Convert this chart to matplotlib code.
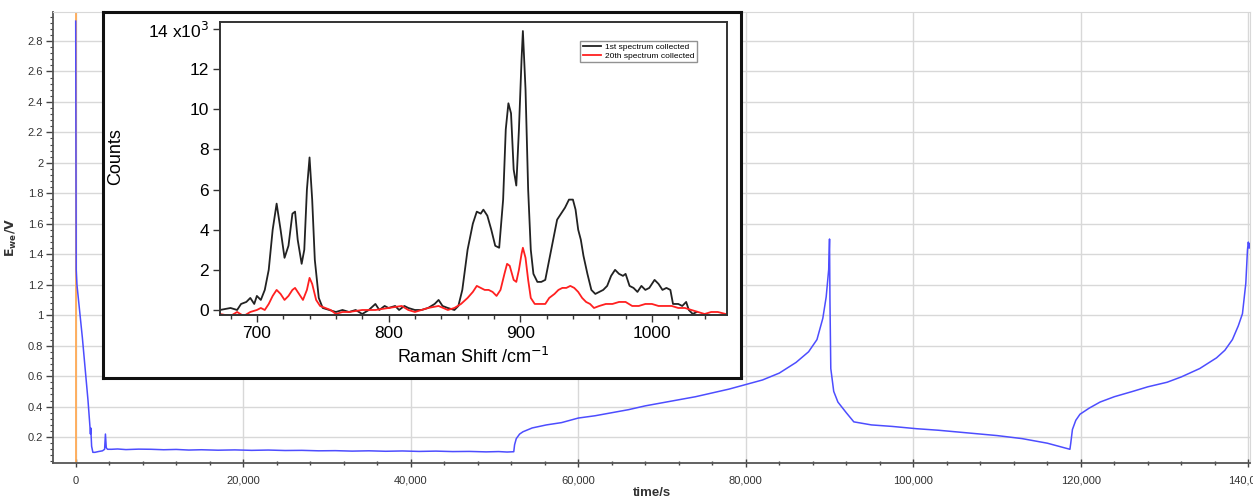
import numpy as np
import matplotlib.pyplot as plt
from matplotlib.ticker import MultipleLocator, FuncFormatter, FixedLocator, FixedFormatter

plt.rcParams['font.family'] = ['Liberation Sans', 'DejaVu Sans']

# --- main trace: working electrode potential vs time ---
time_s = [0, 60, 150, 800, 1470, 1700, 1760, 1800, 1900, 2050, 2300, 2700, 3200, 3450,
          3550, 3650, 3800, 4300, 5000, 6000, 7500, 9000, 10500, 12000, 13500, 15000,
          17000, 19000, 21000, 23000, 25000, 27000, 29000, 31000, 33000, 35000, 37000,
          39000, 41000, 43000, 45000, 47000, 49000, 50500, 51500, 52300, 52400, 52600,
          53000, 53400, 54500, 56200, 58000, 60000, 62000, 64000, 66000, 68000, 70000,
          72000, 74000, 76000, 78000, 80000, 82000, 84000, 86000, 87500, 88500, 89200,
          89600, 89900, 90000, 90050, 90150, 90500, 91000, 92000, 92900, 95000, 97500,
          100400, 103000, 106000, 110000, 113000, 116000, 118700, 118800, 119000, 119400,
          119900, 121000, 122300, 124000, 126200, 128000, 130300, 132000, 134200, 136200,
          137200, 138100, 138800, 139300, 139700, 139900, 140000, 140100, 140200]
ewe_v = [2.93, 1.30, 1.20, 0.85, 0.44, 0.27, 0.22, 0.26, 0.14, 0.10, 0.10, 0.105, 0.11, 0.12,
         0.22, 0.13, 0.12, 0.12, 0.122, 0.118, 0.121, 0.12, 0.117, 0.119, 0.115, 0.117,
         0.114, 0.116, 0.113, 0.115, 0.112, 0.113, 0.110, 0.111, 0.108, 0.110, 0.107,
         0.109, 0.106, 0.108, 0.105, 0.106, 0.103, 0.105, 0.102, 0.104, 0.15, 0.19,
         0.22, 0.235, 0.26, 0.28, 0.295, 0.325, 0.34, 0.36, 0.38, 0.405, 0.425,
         0.445, 0.465, 0.49, 0.515, 0.545, 0.575, 0.62, 0.69, 0.76, 0.84, 0.98,
         1.12, 1.30, 1.50, 1.10, 0.65, 0.50, 0.43, 0.36, 0.30, 0.28, 0.27,
         0.255, 0.245, 0.23, 0.21, 0.19, 0.16, 0.12, 0.16, 0.25, 0.31,
         0.35, 0.39, 0.43, 0.465, 0.50, 0.53, 0.56, 0.595, 0.65, 0.72,
         0.77, 0.84, 0.93, 1.01, 1.21, 1.43, 1.48, 1.44, 1.47]

# --- inset: Raman spectra (counts in thousands) ---
shift_1st = [672, 680, 685, 688, 692, 695, 698, 700, 703, 706, 709, 712, 715, 718, 721, 724,
             727, 729, 731, 734, 736, 738, 740, 742, 744, 747, 750, 755, 760, 765, 770, 775,
             780, 785, 790, 793, 797, 800, 805, 808, 812, 815, 820, 825, 830, 835, 838, 841,
             845, 850, 853, 856, 860, 864, 867, 870, 872, 875, 878, 881, 884, 887, 889, 891,
             893, 895, 897, 899, 901, 902, 904, 906, 908, 910, 913, 916, 919, 922, 925, 928,
             931, 934, 937, 940, 942, 944, 946, 948, 951, 954, 957, 960, 963, 966, 969, 972,
             975, 978, 980, 983, 986, 989, 992, 995, 998, 1002, 1005, 1008, 1011, 1014,
             1016, 1020, 1023, 1026, 1028, 1031, 1034]
counts_1st = [0.0, 0.1, 0.0, 0.3, 0.4, 0.6, 0.3, 0.7, 0.5, 1.0, 2.0, 4.0, 5.3, 4.0, 2.6, 3.2,
              4.8, 4.9, 3.5, 2.3, 3.0, 6.0, 7.6, 5.5, 2.5, 0.6, 0.1, 0.0, -0.1, 0.0, -0.1, 0.0,
              -0.2, 0.0, 0.3, 0.0, 0.2, 0.1, 0.2, 0.0, 0.2, 0.1, 0.0, 0.0, 0.1, 0.3, 0.5, 0.2,
              0.1, 0.0, 0.2, 1.0, 3.0, 4.3, 4.9, 4.8, 5.0, 4.7, 4.0, 3.2, 3.1, 5.5, 9.0, 10.3,
              9.8, 7.0, 6.2, 9.0, 12.5, 13.9, 11.0, 6.0, 3.0, 1.8, 1.4, 1.4, 1.5, 2.5, 3.5, 4.5,
              4.8, 5.1, 5.5, 5.5, 5.0, 4.0, 3.5, 2.7, 1.8, 1.0, 0.8, 0.9, 1.0, 1.2, 1.7, 2.0,
              1.8, 1.7, 1.8, 1.2, 1.1, 0.9, 1.2, 1.0, 1.1, 1.5, 1.3, 1.0, 1.1, 1.0,
              0.3, 0.3, 0.2, 0.4, 0.0, -0.2, -0.1]

shift_20th = [672, 680, 685, 690, 695, 700, 703, 706, 709, 712, 715, 718, 721, 724, 727, 729,
              732, 735, 738, 740, 742, 745, 748, 752, 756, 760, 765, 770, 780, 790, 800, 810,
              815, 820, 830, 838, 845, 850, 855, 860, 864, 867, 870, 873, 876, 879, 882, 885,
              888, 890, 892, 895, 897, 899, 901, 902, 904, 906, 908, 911, 915, 919, 922, 926,
              929, 932, 935, 938, 941, 944, 947, 950, 953, 956, 960, 965, 970, 975, 980, 985,
              990, 995, 1000, 1005, 1010, 1015, 1020, 1025, 1030, 1035, 1040, 1045, 1050, 1056]
counts_20th = [-0.2, -0.3, -0.1, -0.3, -0.1, 0.0, 0.1, 0.0, 0.3, 0.7, 1.0, 0.8, 0.5, 0.7, 1.0, 1.1,
               0.8, 0.5, 1.0, 1.6, 1.3, 0.5, 0.2, 0.1, 0.0, -0.2, -0.1, -0.1, 0.0, 0.0, 0.1, 0.2,
               0.0, -0.1, 0.1, 0.2, 0.0, 0.1, 0.3, 0.6, 0.9, 1.2, 1.1, 1.0, 1.0, 0.9, 0.7, 1.0,
               1.8, 2.3, 2.2, 1.5, 1.4, 2.0, 2.8, 3.1, 2.6, 1.5, 0.6, 0.3, 0.3, 0.3, 0.6, 0.8,
               1.0, 1.1, 1.1, 1.2, 1.1, 0.9, 0.6, 0.4, 0.3, 0.1, 0.2, 0.3, 0.3, 0.4, 0.4, 0.2,
               0.2, 0.3, 0.3, 0.2, 0.2, 0.2, 0.1, 0.1, 0.0, -0.1, -0.2, -0.1, -0.1, -0.2]

inset_yticks = [0, 2, 4, 6, 8, 10, 12, 14]
inset_yticklabels = ['0', '2', '4', '6', '8', '10', '12', r'14 x10$^3$']

W, H = 1253, 497
fig = plt.figure(figsize=(W / 100, H / 100), dpi=100)


def px_axes(left, top, right, bottom):
    # pixel box -> figure fraction
    return [left / W, 1 - bottom / H, (right - left) / W, (bottom - top) / H]


ax = fig.add_axes(px_axes(53, 12, 1250, 463))
ax.axvline(0, color='#ffaa55', lw=1.3, zorder=2)
ax.plot(time_s, ewe_v, color='#4d4dff', lw=1.1, zorder=3)
ax.set_xlim(-2710, 140200)
ax.set_ylim(0.03, 2.99)

ax.xaxis.set_major_locator(MultipleLocator(20000))
ax.xaxis.set_minor_locator(MultipleLocator(4000))
ax.yaxis.set_major_locator(FixedLocator(np.arange(0.2, 2.81, 0.2)))
ax.yaxis.set_minor_locator(MultipleLocator(0.04))
ax.xaxis.set_major_formatter(FuncFormatter(lambda v, p: f'{v:,.0f}'))
ax.yaxis.set_major_formatter(FuncFormatter(lambda v, p: f'{v:.1f}'.rstrip('0').rstrip('.')))
ax.grid(True, which='major', color='#d8d8d8', lw=1)
ax.tick_params(axis='x', which='major', direction='inout', length=6, width=1,
               color='#444444', labelsize=8, labelcolor='#333333', pad=6)
ax.tick_params(axis='x', which='minor', direction='inout', length=3, width=1, color='#444444')
ax.tick_params(axis='y', which='major', direction='out', length=5, width=1,
               color='#444444', labelsize=8, labelcolor='#333333', pad=2)
ax.tick_params(axis='y', which='minor', direction='out', length=2.5, width=0.8, color='#444444')
for side in ['left', 'bottom']:
    ax.spines[side].set_color('#555555')
    ax.spines[side].set_linewidth(1.3)
for side in ['top', 'right']:
    ax.spines[side].set_color('#d8d8d8')
ax.set_xlabel('time/s', fontsize=9.5, fontweight='bold', color='#333333', labelpad=1)
ax.set_ylabel(r'$\mathbf{E_{we}/V}$', fontsize=9, color='#333333', labelpad=6)

# white framed box behind the inset
box = fig.add_axes(px_axes(103, 12, 741, 378))
box.set_xticks([])
box.set_yticks([])
box.set_facecolor('white')
for s in box.spines.values():
    s.set_color('#111111')
    s.set_linewidth(2.2)

ins = fig.add_axes(px_axes(220, 22, 727, 315))
ins.plot(shift_1st, counts_1st, color='#222222', lw=1.3, label='1st spectrum collected')
ins.plot(shift_20th, counts_20th, color='#ff2020', lw=1.3, label='20th spectrum collected')
ins.set_xlim(672, 1057)
ins.set_ylim(-0.25, 14.35)
ins.xaxis.set_major_locator(MultipleLocator(100))
ins.xaxis.set_minor_locator(MultipleLocator(20))
ins.yaxis.set_major_locator(FixedLocator(inset_yticks))
ins.yaxis.set_major_formatter(FixedFormatter(inset_yticklabels))
ins.tick_params(which='major', direction='out', length=5, width=1, color='#333333',
                labelsize=12.5, pad=3)
ins.tick_params(which='minor', direction='out', length=3, width=1, color='#333333')
for s in ins.spines.values():
    s.set_color('#333333')
    s.set_linewidth(1.4)
ins.set_xlabel(r'Raman Shift /cm$^{-1}$', fontsize=13, labelpad=4)
ins.set_ylabel('Counts', fontsize=13)
ins.yaxis.set_label_coords(-0.19, 0.54)
leg = ins.legend(loc='upper right', bbox_to_anchor=(0.95, 0.95), fontsize=6,
                 frameon=True, fancybox=False, handlelength=2.2, borderpad=0.3,
                 labelspacing=0.1, handletextpad=0.5)
leg.get_frame().set_edgecolor('#777777')
leg.get_frame().set_linewidth(1)

fig.savefig('out.png', dpi=100)
